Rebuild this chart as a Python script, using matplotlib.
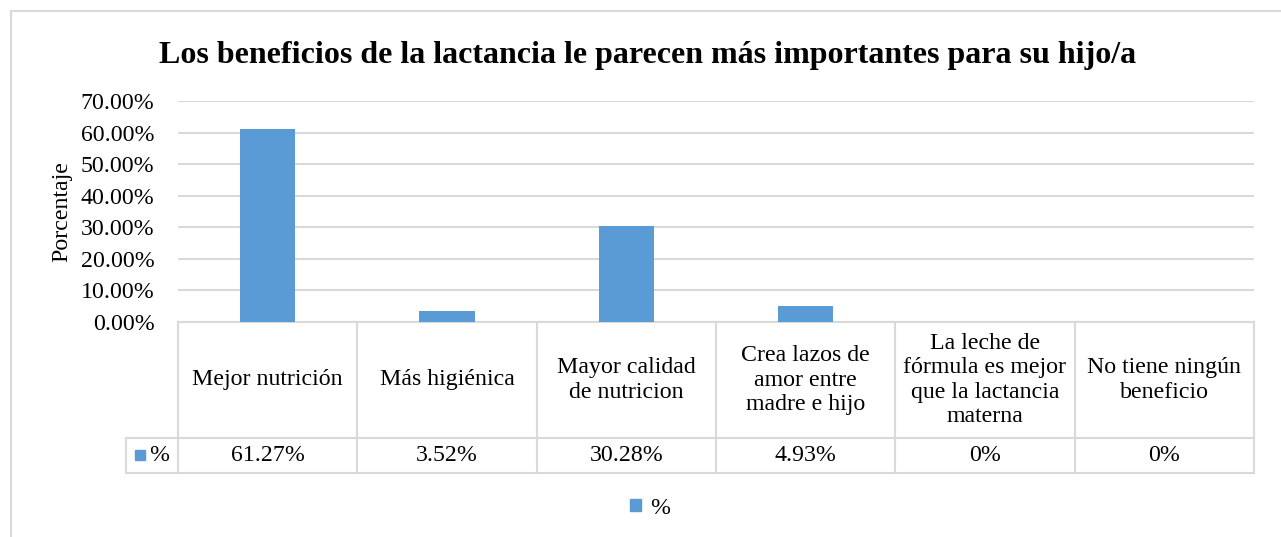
import numpy as np
import matplotlib.pyplot as plt
from matplotlib.patches import Rectangle
from matplotlib.lines import Line2D
import matplotlib.transforms as mtransforms

# datos
categorias = ['Mejor nutrición', 'Más higiénica', 'Mayor calidad\nde nutricion',
              'Crea lazos de\namor entre\nmadre e hijo',
              'La leche de\nfórmula es mejor\nque la lactancia\nmaterna',
              'No tiene ningún\nbeneficio']
valores = [61.27, 3.52, 30.28, 4.93, 0, 0]
etiquetas = ['61.27%', '3.52%', '30.28%', '4.93%', '0%', '0%']
yticks = [0, 10, 20, 30, 40, 50, 60, 70]
ytick_labels = ['%.2f%%' % v for v in yticks]

azul = '#5b9bd5'
gris = '#d9d9d9'
fs = 17.2

plt.rcParams['font.family'] = ['Liberation Serif', 'DejaVu Serif']

W, H = 1281, 537
fig = plt.figure(figsize=(W / 100, H / 100), dpi=100)

# borde exterior
fig.patches.append(Rectangle((11 / W, -0.1), 1.2, 1 - 11 / H + 0.1,
                             transform=fig.transFigure, fill=False,
                             edgecolor=gris, linewidth=1.5))

x0, x1 = 178, 1254
ytop, ybot = 101, 322
ax = fig.add_axes([x0 / W, 1 - ybot / H, (x1 - x0) / W, (ybot - ytop) / H])

x = np.arange(len(categorias))
ax.bar(x, valores, width=0.31, color=azul, zorder=3)
ax.set_xlim(-0.5, len(categorias) - 0.5)
ax.set_ylim(0, 70)
ax.set_yticks(yticks)
ax.set_yticklabels(ytick_labels, fontsize=fs)
ax.tick_params(axis='y', length=0, pad=17)
ax.set_xticks([])
for s in ax.spines.values():
    s.set_visible(False)
ax.grid(axis='y', color=gris, linewidth=1.5, zorder=0)
ax.set_axisbelow(True)
ax.set_ylabel('Porcentaje', fontsize=fs)
ax.yaxis.set_label_coords(-0.098, 0.5)

# tabla de datos
trans = mtransforms.blended_transform_factory(ax.transData, ax.transAxes)
h_ax = ybot - ytop
r1 = -(438 - ybot) / h_ax
r2 = -(473 - ybot) / h_ax
xl = -0.5 - (x0 - 126) / ((x1 - x0) / len(categorias))
n = len(categorias)

def linea(xs, ys):
    ax.add_line(Line2D(xs, ys, transform=trans, color=gris, linewidth=1.5,
                       clip_on=False))

linea([-0.5, n - 0.5], [0, 0])
linea([xl, n - 0.5], [r1, r1])
linea([xl, n - 0.5], [r2, r2])
linea([xl, xl], [r1, r2])
for b in np.arange(n + 1) - 0.5:
    linea([b, b], [0, r2])

for i in range(n):
    ax.text(x[i], r1 / 2, categorias[i], transform=trans, ha='center',
            va='center', fontsize=fs, linespacing=1.2)
    ax.text(x[i], (r1 + r2) / 2, etiquetas[i], transform=trans, ha='center',
            va='center', fontsize=fs)

ax.add_patch(Rectangle((xl + 0.05, (r1 + r2) / 2 - 0.022), 0.056, 0.045,
                       transform=trans, color=azul, clip_on=False))
ax.text(xl + 0.13, (r1 + r2) / 2, '%', transform=trans, ha='left',
        va='center', fontsize=fs)

fig.suptitle('Los beneficios de la lactancia le parecen más importantes para su hijo/a',
             x=648 / W, y=1 - 55 / H, va='center', fontsize=23,
             fontweight='bold')

handle = Rectangle((0, 0), 1, 1, color=azul)
fig.legend([handle], ['%'], loc='center', bbox_to_anchor=(650 / W, 1 - 508 / H),
           frameon=False, fontsize=fs, handlelength=0.45, handleheight=0.45,
           handletextpad=0.4)

fig.savefig('out.png', dpi=100)
